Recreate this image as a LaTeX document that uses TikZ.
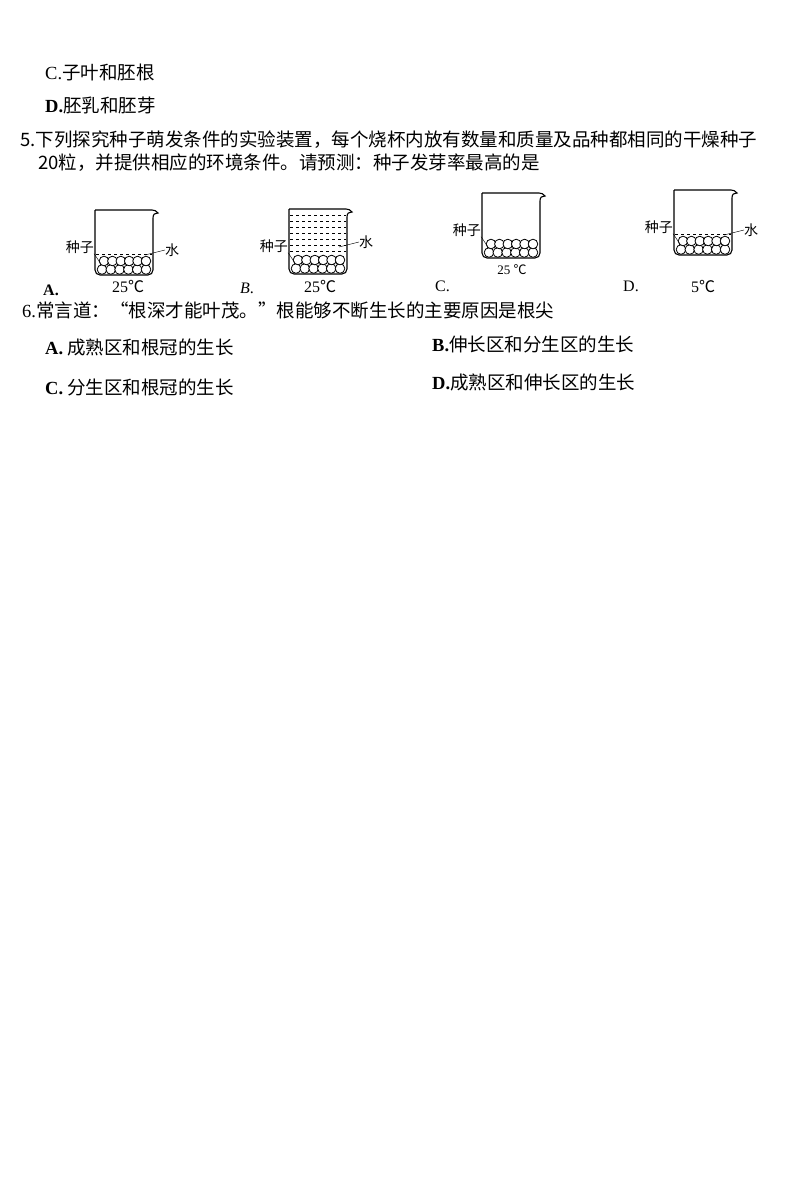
\documentclass[tikz,border=0pt]{standalone}
\usepackage{fontspec}
\setmainfont{Liberation Serif}
\newfontfamily\cjk{Noto Sans CJK SC}
\begin{document}
\begin{tikzpicture}[x=1pt,y=-1pt,
  txt/.style={anchor=west,inner sep=0pt,font=\fontsize{18.5}{20}\selectfont\cjk},
  lbl/.style={inner sep=0pt,font=\fontsize{16}{18}\selectfont},
  tiny/.style={inner sep=0pt,font=\fontsize{14}{16}\selectfont\cjk},
  glass/.style={line width=1.1pt},
  seed/.style={fill=white,line width=0.8pt}]
\useasboundingbox (0,0) rectangle (793,1189);

% beaker body, seeds
\newcommand{\beakerbody}{%
  \draw[glass] (0,0) -- (57,0) .. controls (60,0) and (61,1) .. (63,3)
    .. controls (60,3) and (58,4) .. (58,8) -- (58,58)
    [rounded corners=5pt] -- (58,65) -- (0,65) -- (0,0);
  \foreach \i in {0,...,5} \draw[seed] (7+\i*8.8,59.5) circle (4.8);
  \foreach \i in {0,...,5} \draw[seed] (9+\i*8.4,51) circle (4.8);
}
\newcommand{\seedlabel}{%
  \node[tiny,anchor=east] (zz) at (-1,37) {种子};
  \draw (zz.south east) -- (6,54);
}
\newcommand{\waterlabel}[1]{%
  \node[tiny,anchor=west] (ss) at (70,#1) {水};
  \draw (ss.west) -- (50,#1+5);
}

% questions text
\node[txt] (q4c) at (45,72) {\rmfamily C.\cjk 子叶和胚根};
\node[txt] (q4d) at (45,105) {\rmfamily\bfseries D.\mdseries\cjk 胚乳和胚芽};
\node[txt] (q5a) at (20,140) {5.下列探究种子萌发条件的实验装置，每个烧杯内放有数量和质量及品种都相同的干燥种子};
\node[txt] (q5b) at (38,163) {20粒，并提供相应的环境条件。请预测：种子发芽率最高的是};

% beaker A
\begin{scope}[shift={(95,210)}]
  \beakerbody
  \draw[dashed,line width=0.6pt] (1,44) -- (57,44);
  \seedlabel
  \waterlabel{40}
\end{scope}
% beaker B
\begin{scope}[shift={(289,209)}]
  \beakerbody
  \foreach \y in {6,12,...,42} \draw[dashed,line width=0.6pt] (1,\y) -- (57,\y);
  \seedlabel
  \waterlabel{33}
\end{scope}
% beaker C
\begin{scope}[shift={(482,193)}]
  \beakerbody
  \seedlabel
\end{scope}
% beaker D
\begin{scope}[shift={(674,190)}]
  \beakerbody
  \draw[dashed,line width=0.6pt] (1,44) -- (57,44);
  \seedlabel
  \waterlabel{40}
\end{scope}

\node[lbl,anchor=west] (la) at (43,290) {\textbf{A.}};
\node[lbl] (ta) at (128,286) {25{\cjk ℃}};
\node[lbl,anchor=west] (lb) at (240,288) {\textit{B}.};
\node[lbl] (tb) at (320,286) {25{\cjk ℃}};
\node[lbl,anchor=west] (lc) at (435,286) {C.};
\node[lbl] (tc) at (512,270) {\fontsize{13}{15}\selectfont 25 {\cjk ℃}};
\node[lbl,anchor=west] (ld) at (623,286) {D.};
\node[lbl] (td) at (703,286) {5{\cjk ℃}};

\node[txt] (q6) at (22,310) {\rmfamily 6.\cjk 常言道：“根深才能叶茂。”根能够不断生长的主要原因是根尖};
\node[txt] (q6a) at (45,347) {\rmfamily\bfseries A.\mdseries\cjk\ 成熟区和根冠的生长};
\node[txt] (q6b) at (432,344) {\rmfamily\bfseries B.\mdseries\cjk 伸长区和分生区的生长};
\node[txt] (q6c) at (45,387) {\rmfamily\bfseries C.\mdseries\cjk\ 分生区和根冠的生长};
\node[txt] (q6d) at (432,382) {\rmfamily\bfseries D.\mdseries\cjk 成熟区和伸长区的生长};
\end{tikzpicture}
\end{document}
